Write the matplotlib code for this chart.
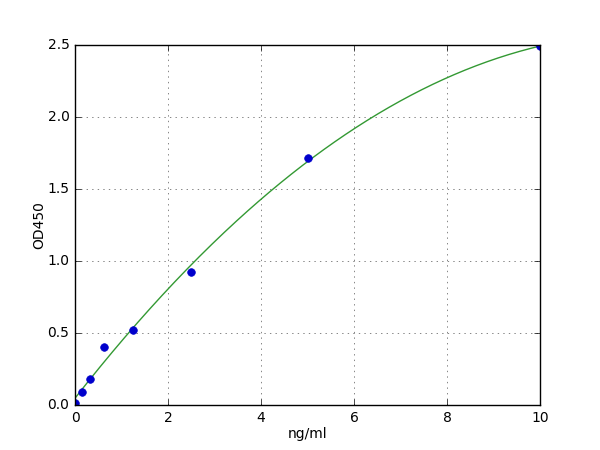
import numpy as np
import matplotlib
matplotlib.use("Agg")
import matplotlib.pyplot as plt

plt.style.use("classic")
plt.rcParams["font.size"] = 10
plt.rcParams["font.family"] = ["DejaVu Sans"]

conc = [0.0, 0.156, 0.312, 0.625, 1.25, 2.5, 5.0, 10.0]
od = [0.012, 0.088, 0.178, 0.40, 0.523, 0.921, 1.713, 2.49]

fig = plt.figure(figsize=(6, 4.5), dpi=100)
ax = fig.add_subplot(111)

coef = np.polyfit(conc, od, 2)
xs = np.linspace(0, 10, 300)
ax.plot(xs, np.polyval(coef, xs), color="#339933", linewidth=1.0)
ax.plot(conc, od, "o", color="#0000cc", markeredgecolor="#0000cc", markersize=5.5)

ax.set_xlim(0, 10)
ax.set_ylim(0, 2.5)
ax.set_xticks([0, 2, 4, 6, 8, 10])
ax.set_yticks([0.0, 0.5, 1.0, 1.5, 2.0, 2.5])
ax.grid(True, linestyle=":", color="#555555")
ax.set_axisbelow(True)
ax.set_xlabel("ng/ml", labelpad=2)
ax.set_ylabel("OD450", labelpad=1)

fig.savefig("out.png", dpi=100)
